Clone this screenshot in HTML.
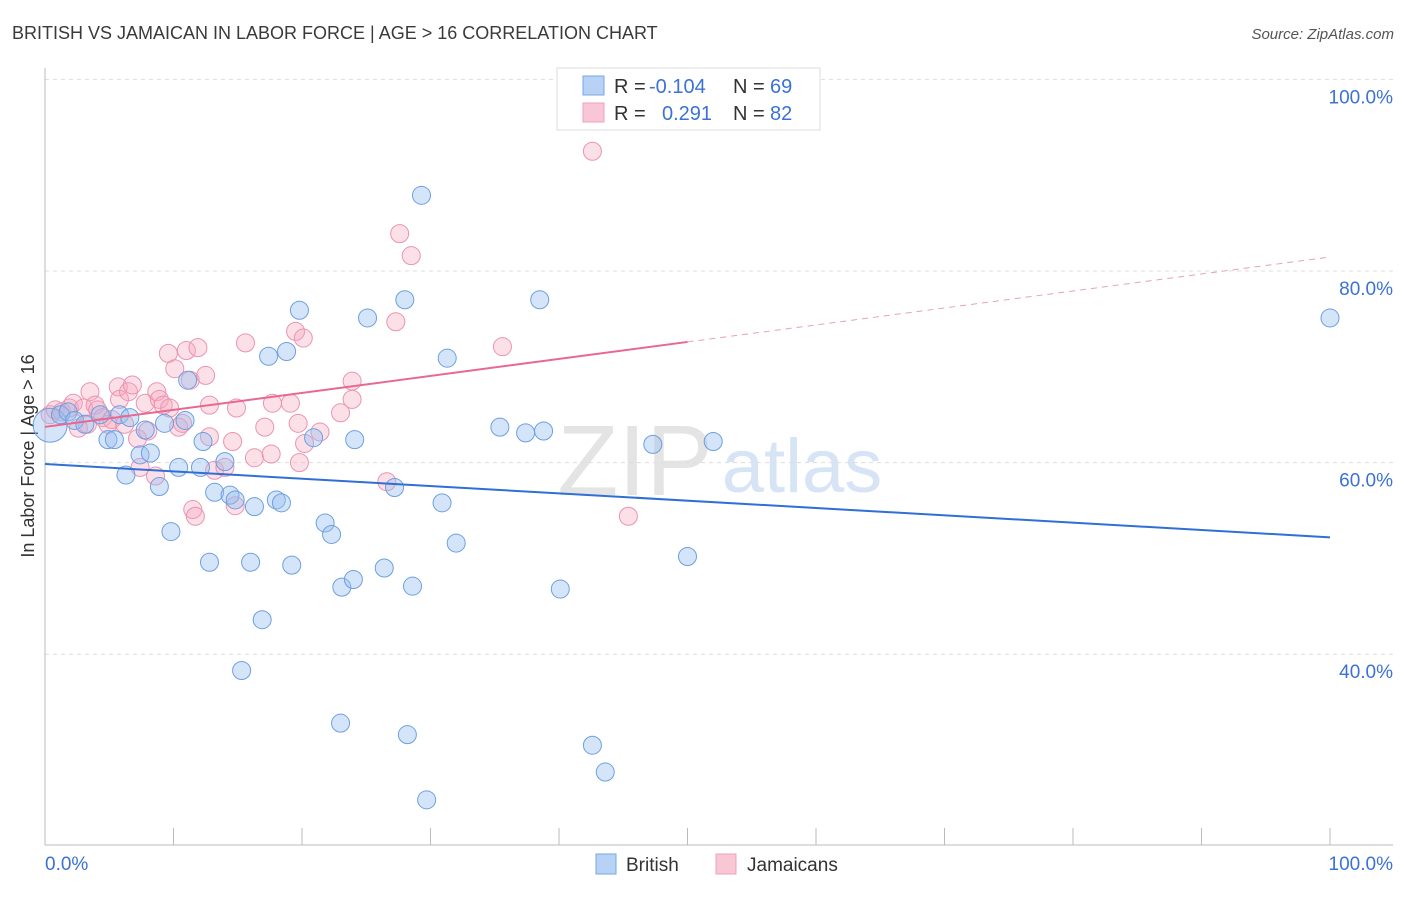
<!DOCTYPE html>
<html><head><meta charset="utf-8"><style>
body{margin:0;background:#fff;font-family:"Liberation Sans",sans-serif;}
svg text{font-family:"Liberation Sans",sans-serif;}
</style></head><body>
<svg id="c" width="1406" height="892">
<text x="12" y="39" font-size="18" fill="#3a3a3a">BRITISH VS JAMAICAN IN LABOR FORCE | AGE &gt; 16 CORRELATION CHART</text>
<text x="1394" y="39" font-size="15" fill="#555" text-anchor="end" font-style="italic">Source: ZipAtlas.com</text>
<text x="34" y="456" font-size="18" fill="#333" text-anchor="middle" transform="rotate(-90 34 456)">In Labor Force | Age &gt; 16</text>
<text x="635" y="495" font-size="100" fill="#e4e4e4" font-family="Liberation Serif" text-anchor="middle">ZIP</text>
<text x="802" y="492" font-size="76" fill="#d6e4f5" text-anchor="middle">atlas</text>
<g id="grid"></g><g id="pts"></g><g id="lines"></g>
<g>
<rect x="557" y="68" width="263" height="62" fill="#fff" stroke="#ddd"/>
<rect x="583" y="76" width="21" height="19" fill="#b8d2f5" stroke="#7aa6e6"/>
<rect x="583" y="103" width="21" height="19" fill="#f9c6d6" stroke="#eea0b9"/>
<text x="614" y="93" font-size="20" fill="#333">R =</text>
<text x="649" y="93" font-size="20" fill="#3b72d4">-0.104</text>
<text x="733" y="93" font-size="20" fill="#333">N =</text>
<text x="770" y="93" font-size="20" fill="#3b72d4">69</text>
<text x="614" y="120" font-size="20" fill="#333">R =</text>
<text x="662" y="120" font-size="20" fill="#3b72d4">0.291</text>
<text x="733" y="120" font-size="20" fill="#333">N =</text>
<text x="770" y="120" font-size="20" fill="#3b72d4">82</text>
</g>
<g>
<rect x="596" y="854" width="20" height="20" fill="#b8d2f5" stroke="#7aa6e6"/>
<text x="626" y="871" font-size="19" fill="#333">British</text>
<rect x="716" y="854" width="20" height="20" fill="#f9c6d6" stroke="#eea0b9"/>
<text x="747" y="871" font-size="19" fill="#333">Jamaicans</text>
</g>
</svg>
<script>
const yTicks=[100,80,60,40];
const yTickLabels=["100.0%","80.0%","60.0%","40.0%"];
const xTicks=[0,10,20,30,40,50,60,70,80,90,100];
const britishX=[0.4,1.2,1.8,2.3,3.1,4.3,4.9,5.4,5.8,6.3,6.6,7.4,7.8,8.2,8.9,9.3,9.8,10.4,10.9,11.1,12.1,12.3,12.8,13.2,14.0,14.4,14.8,16.0,16.3,16.9,15.3,17.4,18.0,18.4,18.8,19.2,19.8,20.9,21.8,22.3,23.0,23.1,24.0,24.1,25.1,26.4,27.2,28.0,28.2,28.6,29.3,29.7,30.9,31.3,32.0,35.4,37.4,38.5,38.8,40.1,42.6,43.6,47.3,50.0,52.0,100];
const britishY=[63.9,65.0,65.3,64.4,64.0,65.0,62.4,62.4,65.0,58.7,64.7,60.8,63.4,61.0,57.5,64.1,52.8,59.5,64.4,68.6,59.5,62.2,49.6,56.9,60.1,56.6,56.1,49.6,55.4,43.6,38.3,71.1,56.1,55.8,71.6,49.3,75.9,62.6,53.7,52.5,32.8,47.0,47.8,62.4,75.1,49.0,57.4,77.0,31.6,47.1,87.9,24.8,55.8,70.9,51.6,63.7,63.1,77.0,63.3,46.8,30.5,27.7,61.9,50.2,62.2,75.1];
const jamX=[0.4,0.8,1.3,1.9,2.2,2.6,3.0,3.3,3.5,3.9,4.1,4.5,4.9,5.2,5.7,5.8,6.2,6.5,6.8,7.2,7.4,7.8,8.0,8.6,8.7,8.9,9.2,9.6,9.7,10.1,10.4,10.7,11.0,11.3,11.5,11.7,11.9,12.5,12.8,12.8,13.2,14.0,14.6,14.8,14.9,15.6,16.3,17.1,17.6,17.7,19.1,19.5,19.7,19.8,20.1,20.2,21.4,23.0,23.9,23.9,26.6,27.3,27.6,28.5,35.6,42.6,45.4];
const jamY=[65.0,65.5,65.3,65.7,66.2,63.6,65.7,64.0,67.4,66.0,65.5,64.7,64.0,64.5,67.9,66.6,64.0,67.4,68.1,62.5,59.5,66.2,63.3,58.6,67.4,66.6,66.0,71.4,65.7,69.8,63.7,64.1,71.7,68.6,55.1,54.4,72.0,69.1,66.0,62.7,59.2,59.5,62.2,55.5,65.7,72.5,60.5,63.7,60.9,66.2,66.2,73.7,64.1,60.0,73.0,62.0,63.2,65.2,68.5,66.6,58.0,74.7,83.9,81.6,72.1,92.5,54.4];
const britishTrend=[59.85,52.2];
const jamTrend=[63.73,81.46];
const NS="http://www.w3.org/2000/svg";
const X=v=>45+v*12.85, Y=v=>1037.4-v*9.58;
function mk(tag,attrs,parent){const e=document.createElementNS(NS,tag);for(const k in attrs)e.setAttribute(k,attrs[k]);parent.appendChild(e);return e;}
const svg=document.getElementById('c'),grid=document.getElementById('grid'),pts=document.getElementById('pts'),lines=document.getElementById('lines');
yTicks.forEach((t,i)=>{
 const l=mk('line',{x1:45,x2:1393,y1:Y(t),y2:Y(t),stroke:'#ddd','stroke-dasharray':'4,4'},grid);
 
 
 const tx=mk('text',{x:1393,y:Y(t)+24,'font-size':19,fill:'#3b72d4','text-anchor':'end'},grid);
 tx.textContent=yTickLabels[i];
 
 
});
const ax=mk('line',{x1:45,x2:45,y1:68,y2:845,stroke:'#bbb'},grid);


const bx=mk('line',{x1:45,x2:1393,y1:845,y2:845,stroke:'#bbb'},grid);


xTicks.forEach(t=>{const l=mk('line',{x1:X(t),x2:X(t),y1:828,y2:845,stroke:'#bbb'},grid);
 
 });
const xl0=mk('text',{x:45,y:870,'font-size':19,fill:'#3b72d4'},grid);xl0.textContent='0.0%';


const xl1=mk('text',{x:1393,y:870,'font-size':19,fill:'#3b72d4','text-anchor':'end'},grid);xl1.textContent='100.0%';


jamX.forEach((x,i)=>{const c=mk('circle',{cx:X(x),cy:Y(jamY[i]),r:9,fill:'rgba(245,165,190,0.35)',stroke:'#eb93b2','stroke-width':1},pts);
 
 });
britishX.forEach((x,i)=>{const c=mk('circle',{cx:X(x),cy:Y(britishY[i]),r:i===0?17:9,fill:'rgba(150,190,240,0.4)',stroke:'#6d9fe0','stroke-width':1},pts);
 
 });
const bl=mk('line',{x1:X(0),y1:Y(britishTrend[0]),x2:X(100),y2:Y(britishTrend[1]),stroke:'#2f6fd6','stroke-width':2},lines);


const jm=jamTrend[0]+(jamTrend[1]-jamTrend[0])*0.5;
const jl=mk('line',{x1:X(0),y1:Y(jamTrend[0]),x2:X(50),y2:Y(jm),stroke:'#e8688f','stroke-width':2},lines);


const jd=mk('line',{x1:X(50),y1:Y(jm),x2:X(100),y2:Y(jamTrend[1]),stroke:'#e8a0b8','stroke-width':1,'stroke-dasharray':'6,5'},lines);


</script>
</body></html>
